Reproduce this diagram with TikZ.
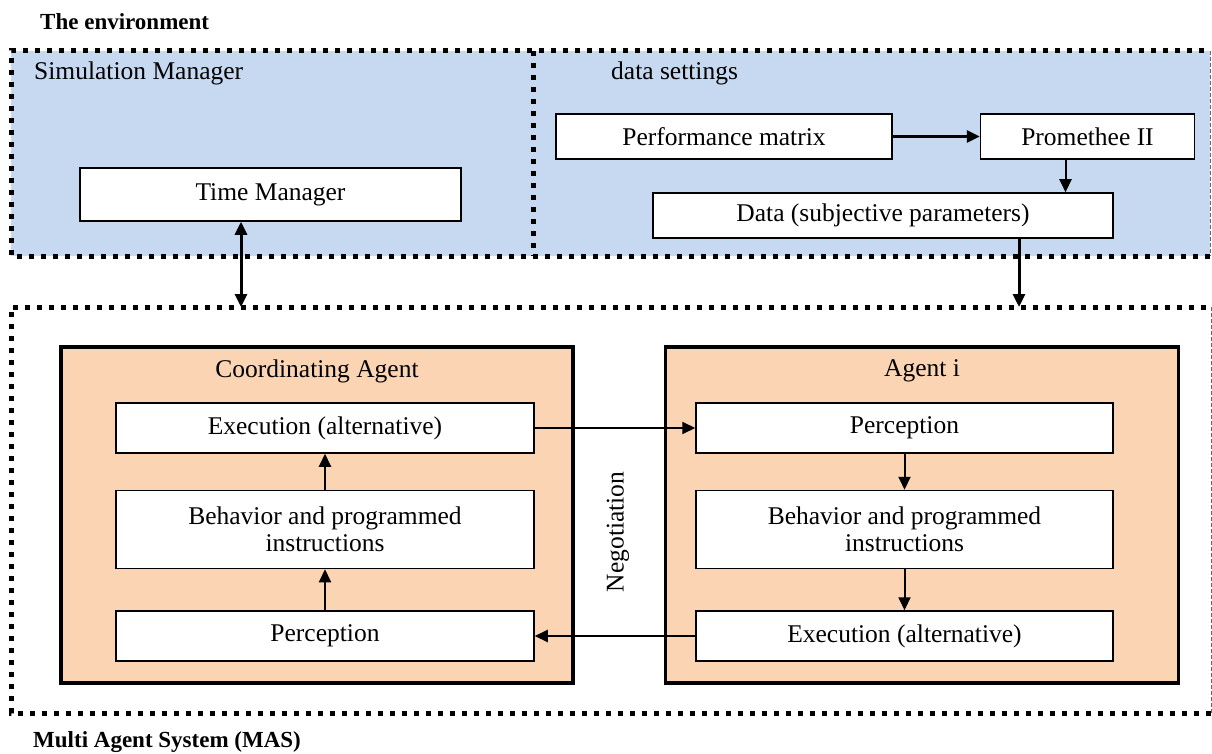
\documentclass[tikz,border=0pt]{standalone}
\usepackage{fontspec}
\setmainfont{Liberation Serif}
\usepackage{tikz}
\usetikzlibrary{arrows.meta,positioning}

\definecolor{envblue}{RGB}{198,217,240}
\definecolor{agentpeach}{RGB}{251,212,180}
\newcommand{\boxfont}{\fontsize{25.5}{27}\selectfont}
\newcommand{\headfont}{\fontsize{23}{26}\selectfont\bfseries}

\begin{document}
\begin{tikzpicture}[x=1pt, y=-1pt, >={Triangle[length=13pt,width=12pt]}]

		\tikzstyle{region}=[inner sep=0pt, outer sep=0pt]
		\tikzstyle{dotline}=[line width=5pt, dash pattern=on 5pt off 7pt]
		\tikzstyle{thinline}=[line width=1pt, dash pattern=on 4pt off 2pt, black!60]
		\tikzstyle{box}=[draw, fill=white, line width=1.5pt, inner sep=0pt,
		align=center, font=\boxfont]
		\tikzstyle{agent}=[draw, fill=agentpeach, line width=3.5pt, inner sep=0pt,
		minimum height=336pt]
		\tikzstyle{plaintext}=[inner sep=0pt, anchor=west, font=\boxfont]
		\tikzstyle{headtext}=[inner sep=0pt, anchor=west, font=\headfont]
		\tikzstyle{link}=[->, line width=2pt]
		\tikzstyle{biglink}=[line width=3pt]

		\useasboundingbox (0,0) rectangle (1212,754);

		% The environment
		\node[region, fill=envblue, minimum width=1199pt, minimum height=205pt]
		(env) at (610.5,153.5) {};
		\draw[dotline] (env.south east) -- (env.south west) -- (env.north west)
		-- (env.north east);
		\draw[thinline] (env.north east) -- (env.south east);
		\coordinate (divtop) at (533,51);
		\coordinate (divbot) at (533,256);
		\draw[dotline] (divtop) -- (divbot);

		\node[headtext] (envname) at (40,22) {The environment};
		\node[plaintext] (simname) at (34,73) {Simulation Manager};
		\node[plaintext] (dataname) at (611,73) {data settings};

		% Environment boxes
		\node[box, minimum width=381pt, minimum height=53pt] (time) at (270.5,194.5)
		{Time Manager};
		\node[box, minimum width=336pt, minimum height=45pt] (perf) at (724,136.5)
		{Performance matrix};
		\node[box, minimum width=214pt, minimum height=45pt, right=87pt of perf]
		(prom) {Promethee II};
		\node[box, minimum width=460pt, minimum height=45pt] (data) at (883,215.5)
		{Data (subjective parameters)};

		% Multi agent system
		\node[region, minimum width=1200pt, minimum height=406pt] (mas) at (611,510) {};
		\draw[dotline] (mas.south east) -- (mas.south west) -- (mas.north west)
		-- (mas.north east);
		\draw[thinline] (mas.north east) -- (mas.south east);
		\node[headtext] (masname) at (33,742) {Multi Agent System (MAS)};

		% Agents
		\node[agent, minimum width=512pt] (coord) at (317,515) {};
		\node[agent, minimum width=513pt, right=89pt of coord] (agi) {};
		\node[font=\boxfont] (coordname) at ([yshift=-26pt]coord.north)
		{Coordinating Agent};
		\node[font=\boxfont] (aginame) at ([yshift=-26pt]agi.north) {Agent i};

		\node[box, minimum width=418pt, minimum height=50pt] (cexec) at (325,428)
		{Execution (alternative)};
		\node[box, minimum width=418pt, minimum height=78pt, below=36pt of cexec]
		(cbeh) {Behavior and programmed\\instructions};
		\node[box, minimum width=418pt, minimum height=50pt, below=41pt of cbeh]
		(cperc) {Perception};

		\node[box, minimum width=417pt, minimum height=50pt] (aperc) at (904.5,428)
		{Perception};
		\node[box, minimum width=417pt, minimum height=78pt, below=36pt of aperc]
		(abeh) {Behavior and programmed\\instructions};
		\node[box, minimum width=417pt, minimum height=50pt, below=41pt of abeh]
		(aexec) {Execution (alternative)};

		\node[font=\boxfont, rotate=90] (nego) at (618,532) {Negotiation};

		% Arrows
		\draw[biglink, <->] ([xshift=-29.5pt]time.south)
		-- ([xshift=-29.5pt]time.south |- mas.north);
		\draw[biglink, ->] (perf) -- (prom);
		\draw[link] ([xshift=-22pt]prom.south) -- ([xshift=-22pt]prom.south |- data.north);
		\draw[biglink, ->] ([xshift=136pt]data.south)
		-- ([xshift=136pt]data.south |- mas.north);

		\draw[link] (cperc) -- (cbeh);
		\draw[link] (cbeh) -- (cexec);
		\draw[link] (aperc) -- (abeh);
		\draw[link] (abeh) -- (aexec);
		\draw[link] (cexec) -- (aperc);
		\draw[link] (aexec) -- (cperc);

\end{tikzpicture}
\end{document}
